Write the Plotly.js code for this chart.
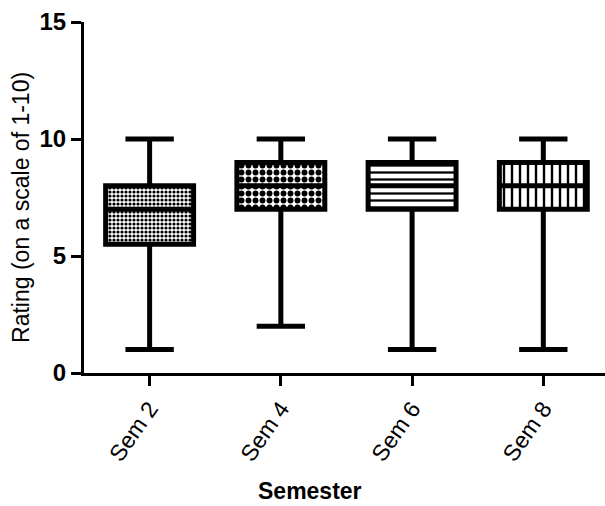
<!DOCTYPE html>
<html>
<head>
<meta charset="utf-8">
<script src="https://cdn.plot.ly/plotly-3.0.1.min.js"></script>
<style>html,body{margin:0;padding:0;background:#fff;}#chart{width:605px;height:506px;}</style>
</head>
<body>
<div id="chart"></div>
<script>
var categories = ['Sem 2', 'Sem 4', 'Sem 6', 'Sem 8'];
var minVals = [1, 2, 1, 1];
var q1Vals = [5.5, 7, 7, 7];
var medianVals = [7, 8, 8, 8];
var q3Vals = [8, 9, 9, 9];
var maxVals = [10, 10, 10, 10];
var patternShapes = ['.', '.', '-', '|'];
var patternSizes = [4, 7, 7, 8];
var patternSolidity = [0.5, 0.55, 0.33, 0.3];
var xTitle = 'Semester';
var yTitle = 'Rating (on a scale of 1-10)';

var heights = q3Vals.map(function (v, i) { return v - q1Vals[i]; });
var FONT = 'Liberation Sans, Arial, sans-serif';

var fillTrace = {
  type: 'bar',
  x: categories,
  base: q1Vals,
  y: heights,
  width: 0.67,
  marker: {
    color: '#ffffff',
    line: {width: 0},
    pattern: {
      shape: patternShapes,
      size: patternSizes,
      solidity: patternSolidity,
      fgcolor: '#000000',
      bgcolor: '#ffffff',
      fillmode: 'replace'
    }
  },
  hoverinfo: 'skip',
  showlegend: false
};

var boxTrace = {
  type: 'box',
  x: categories,
  q1: q1Vals,
  median: medianVals,
  q3: q3Vals,
  lowerfence: minVals,
  upperfence: maxVals,
  width: 0.67,
  whiskerwidth: 0.55,
  boxpoints: false,
  fillcolor: 'rgba(0,0,0,0)',
  line: {color: '#000000', width: 5},
  showlegend: false
};

var layout = {
  width: 605,
  height: 506,
  margin: {l: 84, r: 0, t: 22, b: 133},
  paper_bgcolor: '#ffffff',
  plot_bgcolor: '#ffffff',
  showlegend: false,
  xaxis: {
    type: 'category',
    range: [-0.5, 3.47],
    showline: true,
    linecolor: '#000000',
    linewidth: 3,
    ticks: 'outside',
    ticklen: 10,
    tickwidth: 3,
    tickcolor: '#000000',
    tickangle: -55,
    showgrid: false,
    zeroline: false,
    tickfont: {family: FONT, size: 23, color: '#000000'}
  },
  yaxis: {
    range: [0, 15],
    dtick: 5,
    tick0: 0,
    showline: true,
    linecolor: '#000000',
    linewidth: 3,
    ticks: 'outside',
    ticklen: 10,
    tickwidth: 3,
    tickcolor: '#000000',
    showgrid: false,
    zeroline: false,
    tickfont: {family: FONT, size: 24, color: '#000000', weight: 'bold'}
  },
  annotations: [
    {
      text: xTitle, xref: 'paper', yref: 'paper', x: 0.434, y: -0.336,
      xanchor: 'center', yanchor: 'middle', showarrow: false,
      font: {family: FONT, size: 23, color: '#000000', weight: 'bold'}
    },
    {
      text: yTitle, xref: 'paper', yref: 'paper', x: -0.121, y: 0.473,
      xanchor: 'center', yanchor: 'middle', showarrow: false, textangle: -90,
      font: {family: FONT, size: 23, color: '#000000'}
    }
  ],
  bargap: 0
};

Plotly.newPlot('chart', [fillTrace, boxTrace], layout, {displayModeBar: false, staticPlot: true});
</script>
</body>
</html>
